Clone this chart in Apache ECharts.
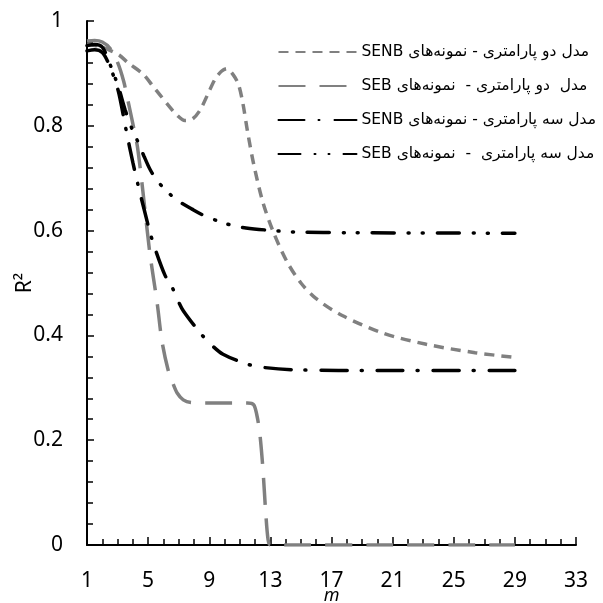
<!DOCTYPE html>
<html>
<head>
<meta charset="utf-8">
<title>R2 - m</title>
<script src="https://cdn.jsdelivr.net/npm/echarts@6/dist/echarts.min.js"></script>
<style>
  html, body { margin: 0; padding: 0; background: #fff; }
  #chart { width: 603px; height: 603px; }
</style>
</head>
<body>
<div id="chart"></div>
<script>
// 数据
// 两参数模型 - SENB 试样
var xSenb2 = [1, 1.5, 2, 2.5, 3.1, 3.7, 4.7, 5.3, 5.8, 6.3, 6.9, 7.4, 7.9, 8.4, 8.9, 9.4, 9.8, 10.14, 10.5, 10.9, 11.2, 11.5, 11.9, 12.5, 13.2, 14.1, 15, 16, 17.7, 20.4, 23.2, 26.4, 29];
var ySenb2 = [0.955, 0.953, 0.95, 0.944, 0.935, 0.92, 0.898, 0.876, 0.858, 0.84, 0.82, 0.81, 0.813, 0.83, 0.86, 0.89, 0.904, 0.909, 0.9, 0.88, 0.843, 0.79, 0.728, 0.655, 0.597, 0.54, 0.5, 0.47, 0.438, 0.404, 0.383, 0.367, 0.358];

// 两参数模型 - SEB 试样
var xSeb2 = [1, 1.5, 2, 2.5, 3.0, 3.4, 3.7, 4.1, 4.3, 4.6, 5.1, 5.6, 5.9, 6.3, 6.6, 6.9, 7.3, 7.8, 9, 11.5, 11.9, 12.1, 12.3, 12.5, 12.7, 12.85, 13, 15, 20, 25, 29];
var ySeb2 = [0.962, 0.963, 0.96, 0.948, 0.921, 0.885, 0.845, 0.79, 0.76, 0.69, 0.56, 0.46, 0.39, 0.335, 0.31, 0.29, 0.277, 0.272, 0.271, 0.271, 0.268, 0.25, 0.215, 0.15, 0.06, 0.01, 0, 0, 0, 0, 0];

// 三参数模型 - SENB 试样
var xSenb3 = [1, 1.5, 2, 2.4, 2.8, 3.1, 3.6, 4.0, 4.4, 4.7, 5.12, 5.4, 6.1, 6.6, 6.9, 7.3, 8.4, 9.1, 9.9, 11.5, 12.5, 14.9, 20, 29];
var ySenb3 = [0.943, 0.945, 0.94, 0.92, 0.89, 0.86, 0.786, 0.73, 0.68, 0.645, 0.597, 0.57, 0.515, 0.49, 0.47, 0.447, 0.405, 0.383, 0.364, 0.345, 0.339, 0.334, 0.333, 0.333];

// 三参数模型 - SEB 试样
var xSeb3 = [1, 1.5, 2, 2.4, 2.8, 3.1, 3.5, 4.0, 4.34, 4.73, 5.12, 5.6, 6.3, 7.0, 7.87, 8.7, 9.6, 10.5, 11.4, 13.2, 14.9, 18, 29];
var ySeb3 = [0.953, 0.955, 0.95, 0.925, 0.895, 0.87, 0.83, 0.79, 0.769, 0.742, 0.717, 0.695, 0.673, 0.656, 0.641, 0.628, 0.618, 0.61, 0.605, 0.6, 0.597, 0.596, 0.595];

// 图例名称 (波斯语, 用 RLE/PDF 包起来保证从右到左)
var names = [
  'مدل دو پارامتری - نمونه‌های SENB',
  'مدل  دو پارامتری -  نمونه‌های SEB',
  'مدل سه پارامتری - نمونه‌های SENB',
  'مدل سه پارامتری  -  نمونه‌های SEB'
];

// 坐标轴
var xTicks = [1, 5, 9, 13, 17, 21, 25, 29, 33];
var yTicks = [0, 0.2, 0.4, 0.6, 0.8, 1];

function pairs(xs, ys){
  var out = [];
  for (var i = 0; i < xs.length; i++) {
    out.push([xs[i], ys[i]]);
  }
  return out;
}

function rtl(s){
  return '\u202B' + s + '\u202C';
}

var chart = echarts.init(document.getElementById('chart'));

var axisFont = 'Noto Sans';

// 一条曲线的公共设置
function lineSeries(name, xs, ys, color, dash, cap){
  return {
    name: rtl(name),
    type: 'line',
    data: pairs(xs, ys),
    showSymbol: false,
    symbol: 'none',
    smooth: 0.3,
    lineStyle: { color: color, width: 3.5, type: dash, cap: cap || 'butt' },
    itemStyle: { color: color }
  };
}

var option = {
  animation: false,
  backgroundColor: '#fff',
  grid: {
    left: 87,
    right: 27,
    top: 21,
    bottom: 58,
    containLabel: false,
    outerBoundsMode: 'none'
  },
  legend: {
    orient: 'vertical',
    right: 2,
    top: 39,
    itemWidth: 78,
    itemHeight: 14,
    itemGap: 18,
    itemStyle: { opacity: 0 },
    textStyle: {
      fontSize: 15.5,
      fontFamily: 'DejaVu Sans',
      color: '#000'
    },
    data: names.map(rtl)
  },
  xAxis: {
    type: 'value',
    min: xTicks[0],
    max: xTicks[xTicks.length - 1],
    interval: 4,
    name: 'm',
    nameLocation: 'middle',
    nameGap: 42,
    nameMoveOverlap: false,
    nameTextStyle: {
      fontSize: 18,
      fontStyle: 'italic',
      fontFamily: axisFont,
      color: '#000'
    },
    axisLine: { lineStyle: { color: '#000', width: 2 } },
    axisTick: { inside: true, length: 8, lineStyle: { color: '#000', width: 1.5 } },
    minorTick: { show: true, splitNumber: 4, length: 6, lineStyle: { color: '#000', width: 1.5 } },
    splitLine: { show: false },
    axisLabel: {
      fontSize: 21,
      fontFamily: axisFont,
      color: '#000',
      margin: 26
    }
  },
  yAxis: {
    type: 'value',
    min: yTicks[0],
    max: yTicks[yTicks.length - 1],
    interval: 0.2,
    name: 'R²',
    nameLocation: 'middle',
    nameGap: 51,
    nameMoveOverlap: false,
    nameTextStyle: {
      fontSize: 21,
      fontFamily: axisFont,
      color: '#000'
    },
    axisLine: { show: true, lineStyle: { color: '#000', width: 2 } },
    axisTick: { show: true, inside: true, length: 7, lineStyle: { color: '#000', width: 1.5 } },
    minorTick: { show: true, splitNumber: 5, length: 6, lineStyle: { color: '#000', width: 1.5 } },
    splitLine: { show: false },
    axisLabel: {
      fontSize: 21,
      fontFamily: axisFont,
      color: '#000',
      margin: 24
    }
  },
  series: [
    lineSeries(names[0], xSenb2, ySenb2, '#808080', [10, 7]),
    lineSeries(names[1], xSeb2, ySeb2, '#808080', [27, 14]),
    lineSeries(names[2], xSenb3, ySenb3, '#000', [26, 14, 1, 15], 'round'),
    lineSeries(names[3], xSeb3, ySeb3, '#000', [22, 14, 1, 13, 1, 14], 'round')
  ]
};

chart.setOption(option);
</script>
</body>
</html>
